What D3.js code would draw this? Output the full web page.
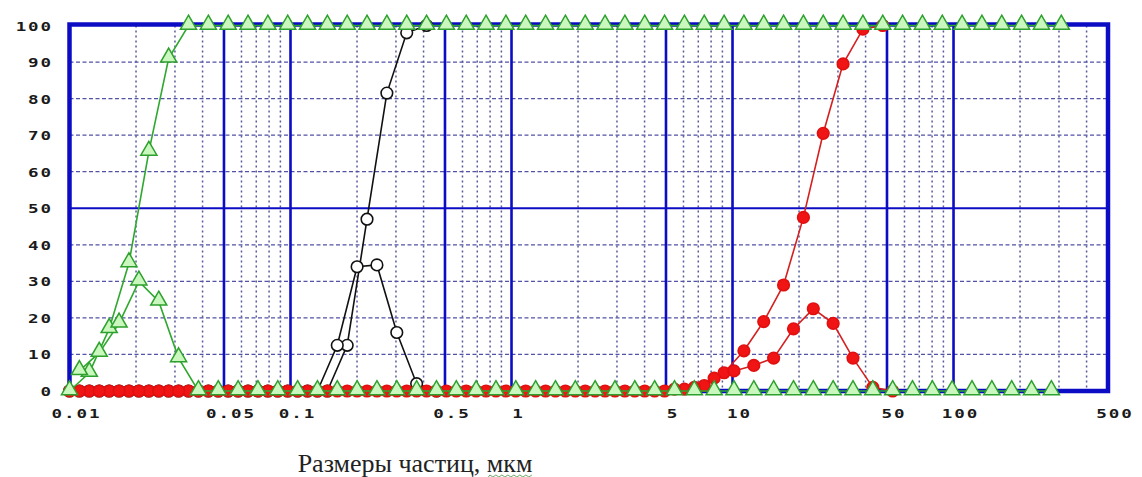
<!DOCTYPE html>
<html>
<head>
<meta charset="utf-8">
<script src="https://cdn.jsdelivr.net/npm/d3@7"></script>
<style>
  body { margin: 0; background: #fff; }
  svg { display: block; }
</style>
</head>
<body>
<div id="chart"></div>
<script>
// размеры частиц (границы фракций), мкм
var sizes = [0.01, 0.01229, 0.01512, 0.01858, 0.02286, 0.0281, 0.03455, 0.04249, 0.05224, 0.06422,
  0.07898, 0.09711, 0.1194, 0.1468, 0.1805, 0.2219, 0.2729, 0.3356, 0.4126, 0.5073,
  0.6237, 0.7668, 0.943, 1.159, 1.426, 1.753, 2.155, 2.65, 3.258, 4.006,
  4.926, 6.057, 7.447, 9.157, 11.26, 13.84, 17.02, 20.93, 25.73, 31.64,
  38.9, 47.83, 58.81, 72.31, 88.92, 109.3, 134.4, 165.3, 203.2, 249.9,
  307.3];

// интегральные кривые (по границам), %
var greenCum = [0, 5, 17, 35, 65.5, 91, 100, 100, 100, 100,
  100, 100, 100, 100, 100, 100, 100, 100, 100, 100,
  100, 100, 100, 100, 100, 100, 100, 100, 100, 100,
  100, 100, 100, 100, 100, 100, 100, 100, 100, 100,
  100, 100, 100, 100, 100, 100, 100, 100, 100, 100,
  100];
var blackCum = [0, 0, 0, 0, 0, 0, 0, 0, 0, 0,
  0, 0, 0, 0, 12.5, 47, 81.5, 98, 100];
var redCum = [0, 0, 0, 0, 0, 0, 0, 0, 0, 0,
  0, 0, 0, 0, 0, 0, 0, 0, 0, 0,
  0, 0, 0, 0, 0, 0, 0, 0, 0, 0,
  0, 0.5, 1.5, 5, 11, 19, 29, 47.5, 70.5, 89.5,
  99, 100];

// дифференциальные кривые (по серединам фракций), %
var greenDist = [5.5, 10.5, 18.5, 30, 24.5, 9, 0, 0, 0, 0,
  0, 0, 0, 0, 0, 0, 0, 0, 0, 0,
  0, 0, 0, 0, 0, 0, 0, 0, 0, 0,
  0, 0, 0, 0, 0, 0, 0, 0, 0, 0,
  0, 0, 0, 0, 0, 0, 0, 0, 0, 0];
var blackDist = [0, 0, 0, 0, 0, 0, 0, 0, 0, 0,
  0, 0, 0, 12.5, 34, 34.5, 16, 2, 0];
var redDist = [0, 0, 0, 0, 0, 0, 0, 0, 0, 0,
  0, 0, 0, 0, 0, 0, 0, 0, 0, 0,
  0, 0, 0, 0, 0, 0, 0, 0, 0, 0,
  0.5, 1, 3.5, 5.5, 7, 9, 17, 22.5, 18.5, 9,
  1, 0];

var xTickLabels = [0.01, 0.05, 0.1, 0.5, 1, 5, 10, 50, 100, 500];
var yTickLabels = [0, 10, 20, 30, 40, 50, 60, 70, 80, 90, 100];
var xTitle = 'Размеры частиц, мкм';

var width = 1142, height = 477;
var blue = '#0c0cc4';

var svg = d3.select('#chart').append('svg')
  .attr('width', width).attr('height', height);

var x = d3.scaleLog().domain([0.01, 500]).range([69.5, 1108]);
var y = d3.scaleLinear().domain([0, 100]).range([391, 25.5]);

var grid = svg.append('g');

// пунктир по промежуточным делениям
grid.selectAll('.minor').data(x.ticks().filter(function(t) {
  return xTickLabels.indexOf(+t.toPrecision(6)) == -1;
})).enter().append('line')
  .attr('x1', function(d) { return x(d); }).attr('x2', function(d) { return x(d); })
  .attr('y1', y(100)).attr('y2', y(0))
  .attr('stroke', '#5a5a9a').attr('stroke-width', 1.5)
  .attr('stroke-dasharray', '2,3');

// горизонтальные штрихи
grid.selectAll('.hgrid').data(y.ticks(10).filter(function(t) {
  return t > 0 && t < 100 && t != 50;
})).enter().append('line')
  .attr('x1', x(0.01)).attr('x2', x(500))
  .attr('y1', function(d) { return y(d); }).attr('y2', function(d) { return y(d); })
  .attr('stroke', '#5252a6').attr('stroke-width', 1.3)
  .attr('stroke-dasharray', '4,2.5');

// сплошные синие линии
grid.selectAll('.major').data(xTickLabels.slice(1, -1)).enter().append('line')
  .attr('x1', function(d) { return x(d); }).attr('x2', function(d) { return x(d); })
  .attr('y1', y(100)).attr('y2', y(0))
  .attr('stroke', blue).attr('stroke-width', 2.6);
grid.append('line')
  .attr('x1', x(0.01)).attr('x2', x(500))
  .attr('y1', y(50)).attr('y2', y(50))
  .attr('stroke', blue).attr('stroke-width', 2.2);

// рамка
grid.append('rect')
  .attr('x', x(0.01)).attr('y', y(100) - 1)
  .attr('width', x(500) - x(0.01)).attr('height', y(0) - y(100) + 1)
  .attr('fill', 'none').attr('stroke', blue).attr('stroke-width', 4.5);

// подписи осей
var labelFont = '"DejaVu Sans Mono", monospace';
svg.append('g').selectAll('text').data(yTickLabels).enter().append('text')
  .attr('transform', function(d) { return 'translate(53,' + (y(d) + 5) + ') scale(1.35,1)'; })
  .attr('text-anchor', 'end')
  .style('font-family', labelFont).style('font-weight', 'bold').style('font-size', '13px')
  .style('letter-spacing', '1.4px').attr('fill', '#1a1a1a')
  .text(function(d) { return d; });

svg.append('g').selectAll('text').data(xTickLabels).enter().append('text')
  .attr('transform', function(d) { return 'translate(' + (x(d) + 7) + ',418) scale(1.35,1)'; })
  .attr('text-anchor', 'middle')
  .style('font-family', labelFont).style('font-weight', 'bold').style('font-size', '13px')
  .style('letter-spacing', '1.4px').attr('fill', '#1a1a1a')
  .text(function(d) { return d; });

var title = svg.append('text')
  .attr('x', 415).attr('y', 472)
  .attr('text-anchor', 'middle')
  .style('font-family', '"Liberation Serif", "Times New Roman", serif')
  .style('font-size', '26px').attr('fill', '#222')
  .text(xTitle);

// волнистое подчеркивание «мкм»
var tb = title.node().getBBox();
var wave = d3.path();
var w0 = tb.x + tb.width - 44;
wave.moveTo(w0, 477);
for (var i = 0; i < 15; i++) {
  wave.lineTo(w0 + i * 3 + 1.5, i % 2 ? 477 : 475);
}
svg.append('path').attr('d', wave.toString())
  .attr('fill', 'none').attr('stroke', '#6aa86a').attr('stroke-width', 1);

// кривые
var line = d3.line()
  .x(function(d) { return x(d[0]); })
  .y(function(d) { return y(d[1]); });

function mids(dist) {
  return dist.map(function(v, i) { return [Math.sqrt(sizes[i] * sizes[i + 1]), v]; });
}
function edges(cum) {
  return cum.map(function(v, i) { return [sizes[i], v]; });
}

var series = [
  { cum: blackCum, dist: blackDist, line: '#111', marker: 'circle', fill: '#fff', stroke: '#111' },
  { cum: redCum, dist: redDist, line: '#d42020', marker: 'circle', fill: '#f01414', stroke: '#e01010' },
  { cum: greenCum, dist: greenDist, line: '#2fa82f', marker: 'triangle', fill: '#c9f7bd', stroke: '#2ea02e' }
];

var tri = d3.symbol().type(d3.symbolTriangle).size(112);

series.forEach(function(s) {
  var g = svg.append('g');
  var sets = [edges(s.cum), mids(s.dist)];
  sets.forEach(function(pts) {
    g.append('path').attr('d', line(pts))
      .attr('fill', 'none').attr('stroke', s.line).attr('stroke-width', 1.6);
  });
  var pts = sets[0].concat(sets[1]);
  if (s.marker == 'circle') {
    g.selectAll('circle').data(pts).enter().append('circle')
      .attr('cx', function(d) { return x(d[0]); })
      .attr('cy', function(d) { return y(d[1]); })
      .attr('r', 5.8)
      .attr('fill', s.fill).attr('stroke', s.stroke).attr('stroke-width', 1.6);
  } else {
    g.selectAll('path.m').data(pts).enter().append('path').attr('class', 'm')
      .attr('d', tri)
      .attr('transform', function(d) { return 'translate(' + x(d[0]) + ',' + (y(d[1]) - 1) + ')'; })
      .attr('fill', s.fill).attr('stroke', s.stroke).attr('stroke-width', 1.5);
  }
});
</script>
</body>
</html>
